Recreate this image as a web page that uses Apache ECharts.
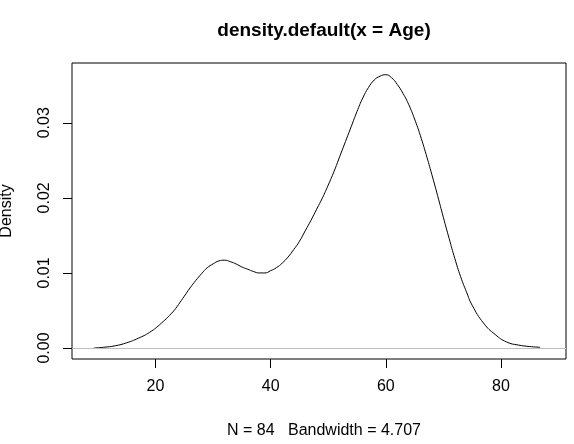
<!DOCTYPE html>
<html>
<head>
<meta charset="utf-8">
<script src="https://cdn.jsdelivr.net/npm/echarts@6/dist/echarts.min.js"></script>
<style>
html,body{margin:0;padding:0;background:#fff;}
#c{width:574px;height:444px;}
</style>
</head>
<body>
<div id="c"></div>
<script>
var ageX = [9.3, 11, 13, 15, 17, 19, 21, 23, 24, 25, 26, 27, 28, 29, 30, 31, 32, 33, 34, 35, 36, 37, 38, 39, 40, 41, 42, 43, 44, 45, 46, 47, 48, 49, 50, 51, 52, 53, 54, 55, 56, 57, 58, 59, 60, 61, 62, 63, 64, 65, 66, 67, 68, 69, 70, 71, 72, 73, 74, 75, 77, 79, 81, 83, 85, 86.8];
var densityY = [0.0000, 0.0001, 0.0003, 0.0007, 0.0013, 0.0021, 0.0033, 0.0048, 0.0058, 0.0069, 0.0080, 0.0090, 0.0099, 0.0107, 0.0112, 0.0116, 0.0117, 0.0115, 0.0112, 0.0108, 0.0105, 0.0102, 0.0100, 0.0100, 0.0103, 0.0107, 0.0113, 0.0121, 0.0131, 0.0142, 0.0156, 0.0170, 0.0185, 0.0200, 0.0217, 0.0235, 0.0255, 0.0275, 0.0295, 0.0315, 0.0333, 0.0347, 0.0357, 0.0362, 0.0364, 0.0360, 0.0351, 0.0339, 0.0324, 0.0305, 0.0283, 0.0258, 0.0231, 0.0203, 0.0174, 0.0146, 0.0119, 0.0095, 0.0075, 0.0057, 0.0033, 0.0018, 0.0008, 0.0004, 0.0002, 0.0001];
var xTicks = [20, 40, 60, 80];
var yTicks = [0, 0.01, 0.02, 0.03];
var titleText = 'density.default(x = Age)';
var subText = 'N = 84   Bandwidth = 4.707';
var yName = 'Density';

var font = 'Liberation Sans, Arial, sans-serif';
var pts = ageX.map(function (x, i) { return [x, densityY[i]]; });

var chart = echarts.init(document.getElementById('c'), null, {renderer: 'canvas'});
chart.setOption({
  animation: false,
  backgroundColor: '#ffffff',
  title: [
    {text: titleText, left: 319, top: 16, textAlign: 'center',
     textStyle: {fontFamily: font, fontSize: 19, fontWeight: 'bold', color: '#000'}},
    {text: subText, left: 319, top: 418, textAlign: 'center',
     textStyle: {fontFamily: font, fontSize: 16, fontWeight: 'normal', color: '#000'}}
  ],
  grid: {left: 72, right: 8, top: 63, bottom: 85, show: true, borderColor: '#000', borderWidth: 1,
         backgroundColor: 'transparent', containLabel: false, outerBoundsMode: 'none'},
  xAxis: {
    type: 'value', min: 5.5, max: 91.3,
    axisLine: {show: false, onZero: false},
    splitLine: {show: false},
    axisTick: {show: true, length: 9, customValues: xTicks, lineStyle: {color: '#000'}},
    axisLabel: {customValues: xTicks, margin: 20, fontFamily: font, fontSize: 16, color: '#000'}
  },
  yAxis: {
    type: 'value', min: -0.00146, max: 0.03796,
    name: yName, nameLocation: 'middle', nameGap: 57,
    nameTextStyle: {fontFamily: font, fontSize: 16, color: '#000'},
    axisLine: {show: false, onZero: false},
    splitLine: {show: false},
    axisTick: {show: true, length: 9, customValues: yTicks, lineStyle: {color: '#000'}},
    axisLabel: {customValues: yTicks, rotate: 90, margin: 19, fontFamily: font, fontSize: 16, color: '#000',
      formatter: function (v) { return v.toFixed(2); }}
  },
  series: [{
    type: 'line',
    data: pts,
    smooth: 0.5,
    showSymbol: false,
    lineStyle: {color: '#000', width: 1},
    markLine: {
      silent: true, symbol: 'none', label: {show: false},
      lineStyle: {color: '#bebebe', type: 'solid', width: 1},
      data: [{yAxis: 0}]
    },
    z: 3
  }]
});
</script>
</body>
</html>
